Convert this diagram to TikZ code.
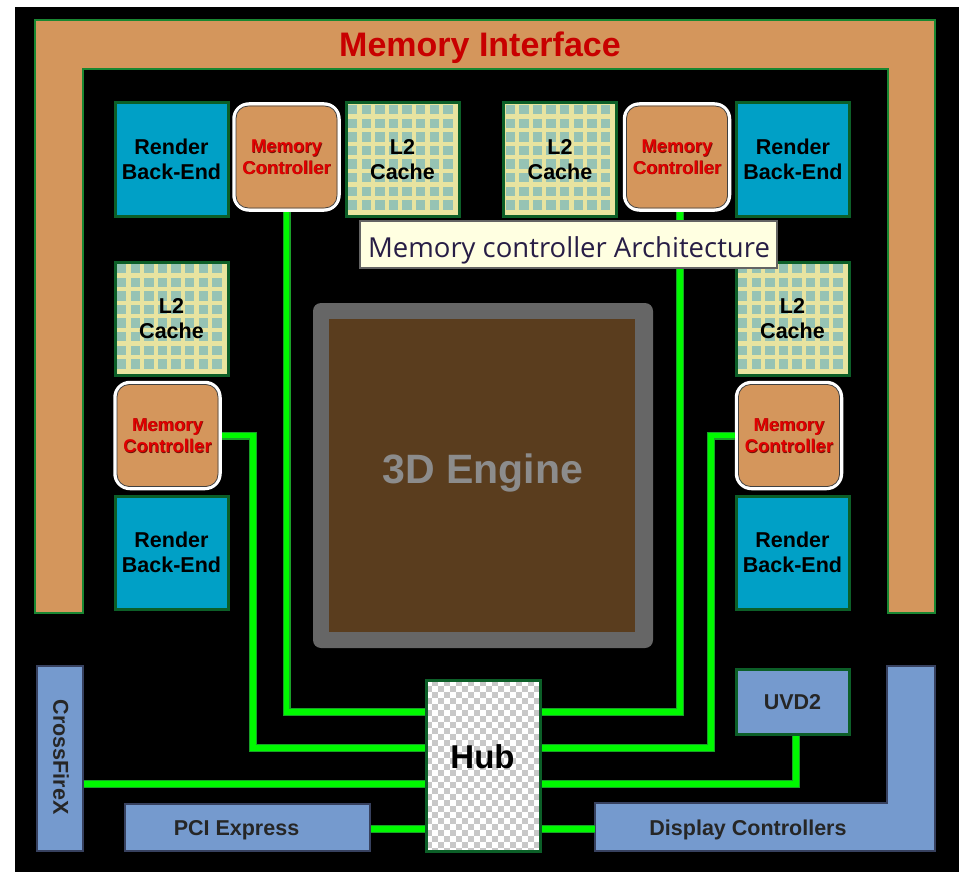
\documentclass[tikz,border=0pt]{standalone}
\usepackage{fontspec}
\setmainfont{Liberation Sans}
\newfontfamily\tipfont{Open Sans}
\definecolor{miorange}{RGB}{212,150,92}
\definecolor{migreen}{RGB}{25,135,50}
\definecolor{mired}{RGB}{200,0,0}
\definecolor{mcred}{RGB}{225,0,0}
\definecolor{mcshade}{RGB}{110,20,10}
\definecolor{boxgreen}{RGB}{12,95,40}
\definecolor{rbeteal}{RGB}{0,160,198}
\definecolor{cacheyellow}{RGB}{232,228,160}
\definecolor{cacheteal}{RGB}{150,195,180}
\definecolor{portblue}{RGB}{117,154,206}
\definecolor{portedge}{RGB}{55,65,95}
\definecolor{enggray}{RGB}{102,102,102}
\definecolor{engbrown}{RGB}{90,61,30}
\definecolor{engtext}{RGB}{140,140,140}
\definecolor{wiregreen}{RGB}{0,250,0}
\definecolor{wireedge}{RGB}{25,160,40}
\definecolor{checkgray}{RGB}{200,200,200}
\definecolor{tipfill}{RGB}{255,255,225}
\definecolor{tipedge}{RGB}{100,100,100}
\definecolor{tiptext}{RGB}{40,30,70}
\tikzset{
  lbl/.style={font=\bfseries\fontsize{21.5}{25}\selectfont, align=center, text=black},
  rbebox/.style={lbl, draw=boxgreen, line width=3pt, fill=rbeteal, inner sep=0pt,
    minimum width=113pt, minimum height=113pt},
  cachebox/.style={lbl, draw=boxgreen, line width=3pt, inner sep=0pt,
    minimum width=113pt, minimum height=113pt},
  mcbox/.style={draw=white, line width=3.5pt, fill=miorange, rounded corners=15pt,
    inner sep=0pt, minimum width=105pt, minimum height=106pt},
  mcfont/.style={align=center, inner sep=0pt, font=\bfseries\fontsize{18.5}{21.5}\selectfont},
  mcinner/.style={draw=black!75, line width=0.8pt, rounded corners=12pt},
  portbox/.style={draw=portedge, line width=1.2pt, fill=portblue, inner sep=0pt},
  porttext/.style={font=\bfseries\fontsize{21.5}{25}\selectfont, text=black!85, inner sep=0pt},
  wire/.style={draw=wireedge, line width=1.2pt, double=wiregreen, double distance=5.6pt},
}
% one L2 cache tile: yellow grid with teal cells, framed in green
\newcommand\cachetile[3]{%
  \fill[cacheyellow] (#2-57,#3-57) rectangle (#2+57,#3+57);
  \foreach \i in {0,...,7}{\foreach \j in {0,...,7}{
    \fill[cacheteal] (#2-54.5+\i*13.6,#3-54.5+\j*13.6) rectangle ++(9.4,9.4);}}
  \node[cachebox] (#1) at (#2,#3) {L2\\Cache};
}
% memory controller with its thin inner rim and shaded red label
\newcommand\memctrl[3]{%
  \node[mcbox] (#1) at (#2,#3) {};
  \draw[mcinner] ([shift={(3.8,3.8)}]#1.north west) rectangle ([shift={(-3.8,-3.8)}]#1.south east);
  \node[mcfont, text=mcshade] (#1-shade) at ([shift={(0.6,0.6)}]#1.center) {Memory\\Controller};
  \node[mcfont, text=mcred] (#1-txt) at (#1.center) {Memory\\Controller};
}
\begin{document}
\begin{tikzpicture}[x=1pt,y=-1pt]
\useasboundingbox (0,0) rectangle (964,872);
\fill[white] (0,0) rectangle (964,872);
\fill[black] (15,7) rectangle (959,872);

% memory interface frame
\path[fill=miorange, draw=migreen, line width=2.5pt]
  (35,20) -- (935,20) -- (935,613) -- (888,613) -- (888,69) -- (83,69) -- (83,613) -- (35,613) -- cycle;
\node[anchor=base, text=mired, font=\bfseries\fontsize{34}{34}\selectfont, inner sep=0pt]
  (mi) at (480,57) {Memory Interface};

% top row
\node[rbebox] (rbeTL) at (171.5,159.5) {Render\\Back-End};
\memctrl{mcTL}{286.5}{157}
\cachetile{l2TL}{402.5}{159.5}
\cachetile{l2TR}{560}{159.5}
\memctrl{mcTR}{677}{157}
\node[rbebox] (rbeTR) at (793,159.5) {Render\\Back-End};

% left column
\cachetile{l2L}{171.5}{318.5}
\memctrl{mcL}{167.5}{435.5}
\node[rbebox] (rbeL) at (171.5,552.5) {Render\\Back-End};

% right column
\cachetile{l2R}{792.5}{318.5}
\memctrl{mcR}{789}{435.5}
\node[rbebox] (rbeR) at (792.5,552.5) {Render\\Back-End};

% 3D engine
\node[fill=enggray, rounded corners=8pt, inner sep=0pt, minimum width=340pt, minimum height=345pt]
  (engframe) at (483,475.5) {};
\node[fill=engbrown, inner sep=0pt, minimum width=306pt, minimum height=313pt] (eng) at (482,475.5) {};
\node[anchor=base, text=engtext, font=\bfseries\fontsize{41}{41}\selectfont, inner sep=0pt]
  (engtxt) at (483,483) {3D Engine};

% hub with checkered fill
\begin{scope}
  \clip (426,680) rectangle (541,852);
  \fill[white] (426,680) rectangle (541,852);
  \foreach \i in {0,...,19}{\foreach \j in {0,...,29}{
    \pgfmathtruncatemacro\chk{mod(\i+\j,2)}
    \ifnum\chk=1 \fill[checkgray] (426+\i*6,680+\j*6) rectangle ++(6,6);\fi}}
\end{scope}
\node[draw=boxgreen, line width=3pt, inner sep=0pt, minimum width=114pt, minimum height=171pt]
  (hub) at (483.5,766) {};
\node[anchor=base, font=\bfseries\fontsize{33}{33}\selectfont, inner sep=0pt] (hubtxt) at (482.5,768) {Hub};

% I/O blocks
\node[portbox, minimum width=46pt, minimum height=185pt] (cfx) at (60,758.5) {};
\node[porttext, rotate=-90] (cfxtxt) at (61,757) {CrossFireX};
\node[portbox, minimum width=245pt, minimum height=47pt] (pci) at (247.5,827.5) {};
\node[porttext, anchor=base] (pcitxt) at (236.5,835) {PCI Express};
\node[portbox, draw=boxgreen, line width=3pt, minimum width=113pt, minimum height=65pt] (uvd) at (793,702) {};
\node[porttext, anchor=base] (uvdtxt) at (792.5,709) {UVD2};
\path[fill=portblue, draw=portedge, line width=1.2pt]
  (595,803) -- (887,803) -- (887,666) -- (935,666) -- (935,851) -- (595,851) -- cycle;
\node[inner sep=0pt, minimum width=340pt, minimum height=48pt] (dc) at (765,827) {};
\node[porttext, anchor=base] (dctxt) at (748,835) {Display Controllers};

% wiring to the hub
\coordinate (yA) at (0,712);
\coordinate (yB) at (0,748);
\coordinate (yC) at (0,784);
\coordinate (yD) at (0,829);
\coordinate (xL) at (253,0);
\coordinate (xR) at (711,0);
\draw[wire] (mcTL.south) |- (hub.west |- yA);
\draw[wire] (mcL.east) -- (mcL.east -| xL) -- (xL |- yB) -- (hub.west |- yB);
\draw[wire] (cfx.east |- yC) -- (hub.west |- yC);
\draw[wire] (pci.east |- yD) -- (hub.west |- yD);
\draw[wire] ([xshift=3pt]mcTR.south) |- (hub.east |- yA);
\draw[wire] (mcR.west) -- (mcR.west -| xR) -- (xR |- yB) -- (hub.east |- yB);
\draw[wire] ([xshift=3pt]uvd.south) |- (hub.east |- yC);
\draw[wire] (dc.west |- yD) -- (hub.east |- yD);

% tooltip on top
\node[draw=tipedge, fill=tipfill, line width=1.2pt, inner sep=0pt, minimum width=417pt, minimum height=47pt]
  (tip) at (568.5,244.5) {};
\node[anchor=base, text=tiptext, font=\tipfont\fontsize{27.5}{27.5}\selectfont, inner sep=0pt]
  (tiptxt) at (569,257) {Memory controller Architecture};
\end{tikzpicture}
\end{document}
